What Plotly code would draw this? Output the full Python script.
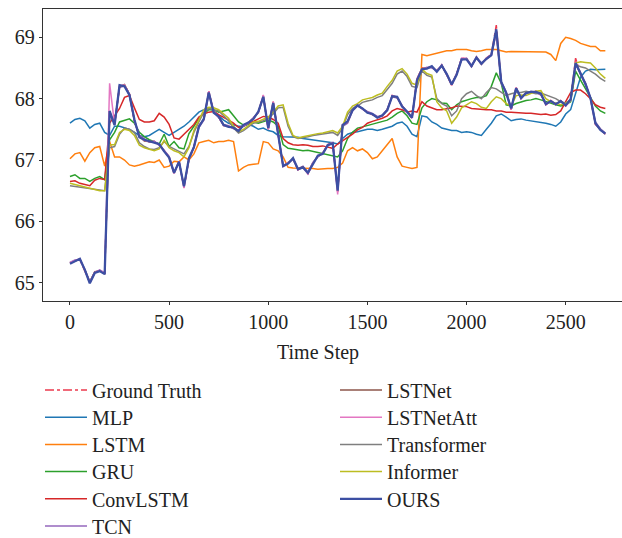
import plotly.graph_objects as go

steps = list(range(0, 2701, 25))

ground_truth = [
    65.32, 65.36, 65.38, 65.20, 65.00, 65.17, 65.20, 65.15,
    67.79, 67.58, 68.20, 68.22, 68.08, 67.65, 67.38, 67.32,
    67.30, 67.30, 67.25, 67.15, 67.05, 66.78, 66.98, 66.55,
    67.02, 67.20, 67.55, 67.66, 68.12, 67.78, 67.70, 67.56,
    67.55, 67.52, 67.48, 67.56, 67.60, 67.68, 67.78, 68.05,
    67.50, 67.95, 67.43, 66.89, 66.95, 67.02, 66.84, 66.89,
    66.78, 66.95, 67.06, 67.11, 67.25, 67.28, 66.48, 67.58,
    67.62, 67.82, 67.90, 67.83, 67.78, 67.74, 67.70, 67.72,
    67.82, 68.05, 68.02, 67.88, 67.78, 67.68, 68.32, 68.50,
    68.50, 68.52, 68.45, 68.55, 68.39, 68.22, 68.40, 68.66,
    68.65, 68.52, 68.68, 68.56, 68.66, 68.72, 69.20, 68.25,
    68.10, 67.82, 68.18, 68.00, 68.10, 68.10, 68.12, 68.07,
    67.90, 67.97, 67.90, 67.97, 67.88, 67.98, 68.66, 68.40,
    68.25, 68.00, 67.58, 67.50, 67.42,
]

mlp = [
    67.60, 67.66, 67.68, 67.64, 67.52, 67.58, 67.60, 67.45,
    67.40, 67.55, 67.55, 67.52, 67.50, 67.45, 67.40, 67.38,
    67.40, 67.45, 67.50, 67.45, 67.40, 67.45, 67.50, 67.55,
    67.62, 67.70, 67.78, 67.82, 67.85, 67.80, 67.72, 67.65,
    67.60, 67.58, 67.55, 67.55, 67.58, 67.55, 67.50, 67.52,
    67.48, 67.46, 67.40, 67.38, 67.38, 67.37, 67.37, 67.35,
    67.34, 67.33, 67.32, 67.30, 67.30, 67.28, 67.26, 67.35,
    67.42, 67.45, 67.46, 67.48, 67.50, 67.50, 67.48, 67.50,
    67.52, 67.55, 67.60, 67.62, 67.55, 67.42, 67.38, 67.72,
    67.70, 67.62, 67.58, 67.52, 67.50, 67.48, 67.48, 67.45,
    67.46, 67.45, 67.42, 67.40, 67.50, 67.60, 67.72, 67.75,
    67.70, 67.64, 67.66, 67.67, 67.65, 67.64, 67.63, 67.62,
    67.60, 67.58, 67.55, 67.62, 67.75, 67.82, 68.10, 68.35,
    68.45, 68.48, 68.47, 68.48, 68.48,
]

lstm = [
    67.02, 67.10, 67.12, 66.98, 67.12, 67.20, 67.22, 66.90,
    67.30, 67.05, 67.05, 67.00, 66.92, 66.90, 66.92, 66.95,
    66.97, 66.96, 67.00, 66.88, 66.90, 66.98, 66.97, 67.05,
    67.00, 67.10, 67.28, 67.30, 67.32, 67.28, 67.30, 67.30,
    67.32, 67.30, 66.82, 66.88, 66.92, 66.93, 66.94, 67.30,
    67.28, 67.18, 67.15, 67.05, 66.88, 66.87, 66.87, 66.86,
    66.86, 66.86, 66.85, 66.86, 66.86, 66.86, 66.88, 66.95,
    67.15, 67.20, 67.15, 67.18, 67.12, 67.02, 67.05, 67.15,
    67.25, 67.35, 67.05, 66.90, 66.88, 66.86, 66.88, 68.72,
    68.70, 68.72, 68.75, 68.77, 68.78, 68.78, 68.80, 68.80,
    68.80, 68.78, 68.77, 68.78, 68.80, 68.80, 68.80, 68.78,
    68.76, 68.77, 68.77, 68.77, 68.77, 68.76, 68.77, 68.76,
    68.76, 68.72, 68.62, 68.90, 69.00, 68.98, 68.95, 68.90,
    68.88, 68.85, 68.85, 68.78, 68.78,
]

gru = [
    66.73, 66.76, 66.70, 66.70, 66.65, 66.70, 66.73, 66.68,
    67.33, 67.45, 67.62, 67.65, 67.67, 67.60, 67.45, 67.38,
    67.33, 67.30, 67.26, 67.42, 67.22, 67.30, 67.20, 67.18,
    67.43, 67.55, 67.68, 67.75, 67.82, 67.82, 67.78, 67.80,
    67.82, 67.72, 67.62, 67.57, 67.60, 67.62, 67.60, 67.62,
    67.65, 67.62, 67.55, 67.25, 67.19, 67.18, 67.16, 67.15,
    67.16, 67.14, 67.12, 67.10, 67.08, 67.06, 67.05, 67.15,
    67.35, 67.45, 67.52, 67.54, 67.56, 67.58, 67.60, 67.62,
    67.65, 67.70, 67.76, 67.80, 67.72, 67.60, 67.58, 67.85,
    67.95, 68.00, 67.98, 67.93, 67.92, 67.82, 67.90, 67.95,
    67.98, 68.00, 68.02, 68.02, 68.05, 68.20, 68.42, 68.25,
    67.90, 67.88, 67.92, 67.95, 67.97, 67.98, 68.00, 67.98,
    67.95, 67.92, 67.90, 67.88, 67.90, 67.95, 68.45, 68.30,
    68.15, 68.02, 67.88, 67.80, 67.76,
]

convlstm = [
    66.65, 66.66, 66.62, 66.60, 66.58, 66.67, 66.70, 66.68,
    67.60, 67.72, 67.84, 68.02, 68.05, 67.85, 67.66, 67.62,
    67.62, 67.64, 67.76, 67.70, 67.58, 67.36, 67.34, 67.42,
    67.50, 67.58, 67.70, 67.75, 67.78, 67.79, 67.74, 67.70,
    67.65, 67.60, 67.53, 67.55, 67.60, 67.63, 67.67, 67.71,
    67.70, 67.66, 67.60, 67.35, 67.28, 67.25, 67.24, 67.25,
    67.24, 67.22, 67.22, 67.23, 67.21, 67.19, 67.26, 67.32,
    67.37, 67.42, 67.49, 67.53, 67.60, 67.63, 67.65, 67.68,
    67.72, 67.80, 67.84, 67.82, 67.78, 67.80, 67.78, 67.95,
    67.88, 67.85, 67.82, 67.82, 67.83, 67.85, 67.88, 67.88,
    67.87, 67.84, 67.83, 67.82, 67.82, 67.82, 67.80, 67.80,
    67.78, 67.78, 67.77, 67.76, 67.76, 67.76, 67.75, 67.74,
    67.75, 67.73, 67.74, 67.80, 67.95, 68.10, 68.14, 68.14,
    68.08, 68.00, 67.90, 67.86, 67.84,
]

tcn = [
    65.33, 65.37, 65.37, 65.22, 65.02, 65.16, 65.21, 65.16,
    67.75, 67.60, 68.18, 68.21, 68.05, 67.64, 67.40, 67.34,
    67.29, 67.31, 67.24, 67.16, 67.06, 66.80, 66.96, 66.58,
    67.00, 67.22, 67.53, 67.65, 68.08, 67.79, 67.69, 67.58,
    67.56, 67.51, 67.49, 67.55, 67.61, 67.69, 67.77, 68.02,
    67.53, 67.92, 67.45, 66.91, 66.96, 67.01, 66.86, 66.90,
    66.80, 66.96, 67.05, 67.12, 67.23, 67.29, 66.52, 67.55,
    67.60, 67.80, 67.88, 67.83, 67.79, 67.76, 67.71, 67.71,
    67.83, 68.03, 68.01, 67.89, 67.77, 67.70, 68.28, 68.48,
    68.51, 68.50, 68.46, 68.53, 68.41, 68.24, 68.41, 68.63,
    68.66, 68.54, 68.66, 68.58, 68.64, 68.70, 69.08, 68.28,
    68.11, 67.85, 68.16, 68.02, 68.08, 68.12, 68.10, 68.06,
    67.92, 67.95, 67.92, 67.95, 67.90, 67.97, 68.55, 68.42,
    68.22, 68.02, 67.62, 67.51, 67.44,
]

lstnet = [
    65.32, 65.35, 65.38, 65.21, 65.01, 65.18, 65.19, 65.15,
    67.78, 67.59, 68.19, 68.23, 68.07, 67.63, 67.39, 67.31,
    67.30, 67.29, 67.26, 67.15, 67.04, 66.79, 66.97, 66.56,
    67.01, 67.21, 67.56, 67.66, 68.11, 67.78, 67.70, 67.57,
    67.55, 67.52, 67.48, 67.57, 67.60, 67.68, 67.78, 68.04,
    67.51, 67.94, 67.43, 66.90, 66.95, 67.02, 66.85, 66.89,
    66.79, 66.95, 67.06, 67.11, 67.25, 67.28, 66.49, 67.57,
    67.62, 67.82, 67.89, 67.83, 67.78, 67.74, 67.70, 67.72,
    67.82, 68.04, 68.02, 67.88, 67.78, 67.69, 68.31, 68.49,
    68.50, 68.52, 68.45, 68.54, 68.39, 68.23, 68.40, 68.65,
    68.65, 68.53, 68.67, 68.56, 68.65, 68.71, 69.10, 68.26,
    68.10, 67.83, 68.17, 68.01, 68.10, 68.10, 68.11, 68.07,
    67.91, 67.96, 67.91, 67.96, 67.89, 67.98, 68.58, 68.40,
    68.24, 68.01, 67.59, 67.50, 67.42,
]

lstnetatt = [
    65.33, 65.36, 65.39, 65.20, 65.00, 65.17, 65.20, 65.16,
    68.25, 67.58, 68.21, 68.22, 68.07, 67.65, 67.38, 67.32,
    67.30, 67.30, 67.25, 67.15, 67.05, 66.78, 66.98, 66.54,
    67.02, 67.20, 67.55, 67.66, 68.12, 67.78, 67.70, 67.56,
    67.55, 67.52, 67.48, 67.56, 67.60, 67.68, 67.78, 68.06,
    67.50, 67.95, 67.43, 66.89, 66.95, 67.02, 66.84, 66.88,
    66.77, 66.95, 67.06, 67.11, 67.25, 67.28, 66.44, 67.58,
    67.62, 67.82, 67.90, 67.83, 67.78, 67.74, 67.70, 67.72,
    67.82, 68.05, 68.02, 67.88, 67.78, 67.68, 68.32, 68.48,
    68.50, 68.52, 68.45, 68.55, 68.39, 68.22, 68.40, 68.66,
    68.65, 68.52, 68.68, 68.56, 68.66, 68.72, 69.10, 68.25,
    68.10, 67.82, 68.18, 68.00, 68.10, 68.10, 68.12, 68.07,
    67.90, 67.97, 67.90, 67.97, 67.88, 67.98, 68.60, 68.40,
    68.25, 68.00, 67.58, 67.50, 67.42,
]

transformer = [
    66.58, 66.57, 66.55, 66.55, 66.53, 66.52, 66.52, 66.50,
    67.20, 67.22, 67.42, 67.52, 67.50, 67.45, 67.28, 67.22,
    67.18, 67.17, 67.20, 67.30, 67.22, 67.18, 67.14, 67.10,
    67.22, 67.45, 67.62, 67.78, 67.84, 67.82, 67.80, 67.72,
    67.64, 67.52, 67.44, 67.48, 67.54, 67.60, 67.62, 67.64,
    67.68, 67.75, 67.85, 67.86, 67.55, 67.38, 67.35, 67.36,
    67.38, 67.40, 67.41, 67.42, 67.44, 67.45, 67.40, 67.52,
    67.74, 67.84, 67.88, 67.94, 67.96, 67.98, 68.02, 68.05,
    68.15, 68.25, 68.40, 68.45, 68.36, 68.20, 68.18, 68.45,
    68.38, 68.35, 68.00, 67.92, 67.88, 67.72, 67.80, 68.00,
    68.08, 68.12, 68.05, 68.00, 68.10, 68.18, 68.16, 68.10,
    68.05, 68.08, 68.10, 68.10, 68.12, 68.10, 68.08, 68.09,
    68.06, 68.02, 68.00, 67.95, 67.93, 67.98, 68.55, 68.52,
    68.50, 68.45, 68.40, 68.33, 68.28,
]

informer = [
    66.62, 66.60, 66.58, 66.57, 66.55, 66.52, 66.50, 66.50,
    67.25, 67.25, 67.45, 67.50, 67.48, 67.40, 67.24, 67.20,
    67.17, 67.15, 67.18, 67.32, 67.20, 67.15, 67.12, 67.05,
    67.20, 67.48, 67.65, 67.82, 67.86, 67.85, 67.82, 67.75,
    67.68, 67.55, 67.46, 67.50, 67.56, 67.62, 67.63, 67.66,
    67.70, 67.78, 67.88, 67.90, 67.60, 67.40, 67.36, 67.38,
    67.40, 67.42, 67.43, 67.44, 67.46, 67.48, 67.44, 67.55,
    67.78, 67.88, 67.92, 67.98, 68.00, 68.02, 68.06, 68.09,
    68.20, 68.30, 68.45, 68.49, 68.40, 68.25, 68.22, 68.48,
    68.41, 68.38, 67.95, 67.85, 67.80, 67.60, 67.70, 67.85,
    67.90, 67.95, 67.92, 67.86, 67.84, 67.95, 68.03, 68.00,
    67.92, 67.88, 68.05, 68.06, 68.05, 68.08, 68.12, 68.13,
    68.00, 67.95, 67.92, 67.90, 67.92, 67.98, 68.58, 68.60,
    68.59, 68.58, 68.50, 68.40, 68.33,
]

ours = [
    65.31, 65.35, 65.39, 65.21, 64.99, 65.16, 65.19, 65.14,
    67.80, 67.57, 68.22, 68.20, 68.06, 67.66, 67.37, 67.33,
    67.31, 67.28, 67.26, 67.14, 67.04, 66.79, 66.97, 66.57,
    67.03, 67.21, 67.54, 67.67, 68.10, 67.77, 67.71, 67.57,
    67.54, 67.53, 67.47, 67.57, 67.61, 67.67, 67.79, 68.03,
    67.52, 67.93, 67.44, 66.90, 66.94, 67.03, 66.85, 66.88,
    66.79, 66.94, 67.07, 67.10, 67.24, 67.27, 66.50, 67.57,
    67.63, 67.81, 67.89, 67.84, 67.77, 67.75, 67.69, 67.73,
    67.81, 68.04, 68.03, 67.87, 67.79, 67.69, 68.30, 68.48,
    68.49, 68.53, 68.44, 68.54, 68.40, 68.23, 68.39, 68.64,
    68.64, 68.53, 68.67, 68.57, 68.65, 68.71, 69.13, 68.27,
    68.09, 67.84, 68.17, 68.01, 68.09, 68.11, 68.11, 68.08,
    67.91, 67.96, 67.91, 67.96, 67.89, 67.99, 68.58, 68.41,
    68.24, 68.01, 67.60, 67.49, 67.43,
]

x_ticks = [0, 500, 1000, 1500, 2000, 2500]
y_ticks = [65, 66, 67, 68, 69]

# name, values, colour, width, dash, legend column, legend row
series = [
    ("Ground Truth", ground_truth, "#ec3a4e", 1.5, "dashdot", 0, 0),
    ("MLP", mlp, "#1f77b4", 1.5, "solid", 0, 1),
    ("LSTM", lstm, "#ff7f0e", 1.5, "solid", 0, 2),
    ("GRU", gru, "#2ca02c", 1.5, "solid", 0, 3),
    ("ConvLSTM", convlstm, "#d62728", 1.5, "solid", 0, 4),
    ("TCN", tcn, "#9467bd", 1.5, "solid", 0, 5),
    ("LSTNet", lstnet, "#8c564b", 1.5, "solid", 1, 0),
    ("LSTNetAtt", lstnetatt, "#e377c2", 1.5, "solid", 1, 1),
    ("Transformer", transformer, "#7f7f7f", 1.5, "solid", 1, 2),
    ("Informer", informer, "#bcbd22", 1.5, "solid", 1, 3),
    ("OURS", ours, "#3c4fa3", 2.3, "solid", 1, 4),
]

FONT = "Liberation Serif"
W, H = 622, 538
COL_X = [40, 335]
ROW_Y0, ROW_DY = 390, 27.2

fig = go.Figure()
layout_legends = {}
for i, (name, vals, color, width, dash, col, row) in enumerate(series):
    key = "legend" if i == 0 else "legend%d" % (i + 1)
    fig.add_trace(go.Scatter(
        x=steps, y=vals, mode="lines", name=name,
        line=dict(color=color, width=width, dash=dash),
        legend=key,
    ))
    layout_legends[key] = dict(
        xref="container", yref="container", xanchor="left", yanchor="middle",
        x=COL_X[col] / W, y=1 - (ROW_Y0 + ROW_DY * row) / H,
        font=dict(family=FONT, size=20, color="#222"),
        bgcolor="rgba(0,0,0,0)", borderwidth=0, itemwidth=42,
    )

fig.update_layout(
    width=W, height=H,
    margin=dict(l=43, r=0, t=9, b=237, autoexpand=False),
    paper_bgcolor="white", plot_bgcolor="white",
    font=dict(family=FONT, size=20, color="#222"),
    showlegend=True,
    xaxis=dict(
        range=[-136, 2784], tickvals=x_ticks, ticks="outside", ticklen=3,
        tickcolor="#333", showline=True, linecolor="#333", linewidth=1.3,
        mirror=True, showgrid=False, zeroline=False, automargin=False,
        tickfont=dict(family=FONT, size=20, color="#222"),
    ),
    yaxis=dict(
        range=[64.702, 69.461], tickvals=y_ticks, ticks="outside", ticklen=3,
        tickcolor="#333", showline=True, linecolor="#333", linewidth=1.3,
        mirror=False, showgrid=False, zeroline=False, automargin=False,
        tickfont=dict(family=FONT, size=20, color="#222"),
    ),
    annotations=[dict(
        text="Time Step", xref="paper", yref="paper",
        x=(317.5 - 43) / (W - 43), y=-(352 - 301) / (301 - 9),
        xanchor="center", yanchor="middle", showarrow=False,
        font=dict(family=FONT, size=20, color="#222"),
    )],
    **layout_legends,
)

fig.write_html("out.html")
